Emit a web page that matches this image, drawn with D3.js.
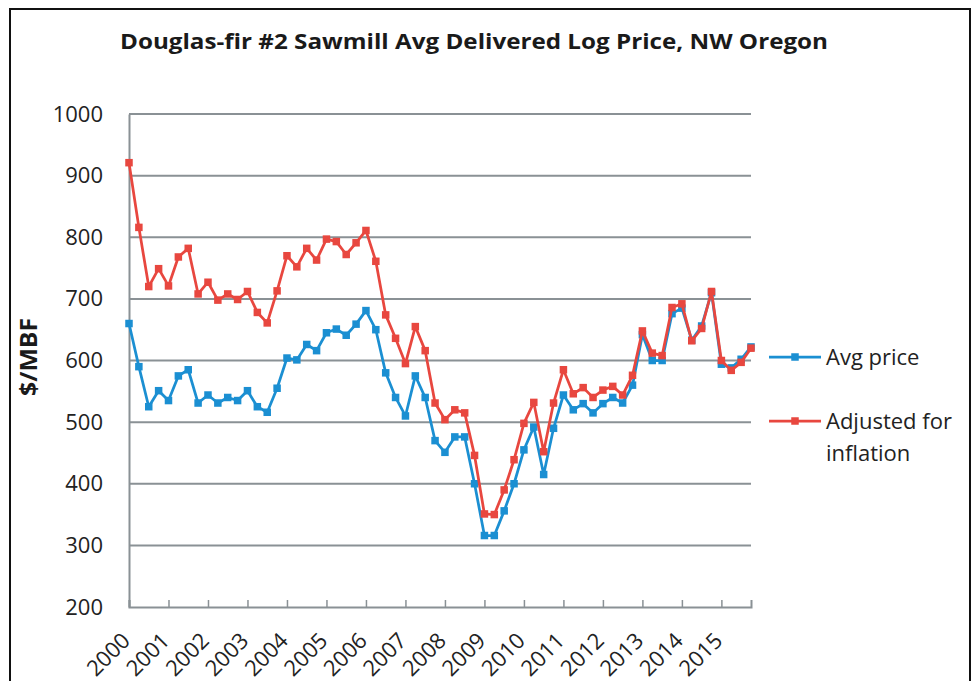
<!DOCTYPE html>
<html>
<head>
<meta charset="utf-8">
<script src="https://cdn.jsdelivr.net/npm/d3@7"></script>
<style>
  body { margin: 0; background: #fff; }
  svg { display: block; font-family: "Open Sans", "Noto Sans", sans-serif; }
</style>
</head>
<body>
<div id="chartContainer"></div>
<script>
// Douglas-fir #2 sawmill log price, quarterly
const years = ["2000", "2001", "2002", "2003", "2004", "2005", "2006", "2007",
               "2008", "2009", "2010", "2011", "2012", "2013", "2014", "2015"];
const quarterNames = ["Q1", "Q2", "Q3", "Q4"];
const quarters = years.flatMap(y => quarterNames.map(q => y + " " + q));

const avgPrice = [660, 590, 525, 551, 535, 575, 585, 531, 544, 531, 540, 535, 551, 525, 516, 555,
                  604, 601, 626, 616, 645, 651, 641, 659, 681, 650, 580, 540, 510, 575, 540, 470,
                  451, 476, 476, 400, 316, 316, 356, 400, 455, 492, 415, 490, 544, 520, 530, 515,
                  530, 540, 531, 560, 642, 600, 600, 676, 685, 633, 656, 710, 594, 588, 602, 622];

const adjusted = [921, 816, 720, 749, 721, 768, 782, 708, 727, 698, 708, 699, 712, 678, 661, 713,
                  770, 752, 782, 763, 797, 793, 772, 791, 811, 761, 674, 636, 595, 655, 616, 531,
                  504, 520, 515, 446, 351, 350, 390, 439, 498, 532, 452, 531, 585, 546, 556, 540,
                  552, 558, 544, 576, 648, 612, 608, 686, 692, 632, 652, 712, 600, 584, 597, 620];

const yTicks = [200, 300, 400, 500, 600, 700, 800, 900, 1000];

(function() {
    const W = 976, H = 681;
    const left = 129, right = 751, top = 114, bottom = 607;

    const svg = d3.select("#chartContainer").append("svg")
        .attr("width", W)
        .attr("height", H);

    // outer frame
    svg.append("path")
        .attr("d", `M10,${H} V9 H970 V${H}`)
        .attr("fill", "none")
        .attr("stroke", "#111")
        .attr("stroke-width", 2);

    svg.append("text")
        .attr("x", 474)
        .attr("y", 49)
        .attr("text-anchor", "middle")
        .attr("textLength", 708)
        .attr("lengthAdjust", "spacingAndGlyphs")
        .style("font-size", "22px")
        .style("font-weight", "bold")
        .attr("fill", "#1a1a1a")
        .text("Douglas-fir #2 Sawmill Avg Delivered Log Price, NW Oregon");

    const x = d3.scalePoint().domain(quarters).range([left, right]);
    const y = d3.scaleLinear().domain([200, 1000]).range([bottom, top]);

    // gridlines
    svg.append("g")
        .selectAll("line")
        .data(yTicks.filter(d => d > 200))
        .join("line")
          .attr("x1", left).attr("x2", right)
          .attr("y1", d => y(d)).attr("y2", d => y(d))
          .attr("stroke", "#8a9195")
          .attr("stroke-width", 2);

    // y axis
    const yAxis = svg.append("g")
        .attr("transform", `translate(${left},0)`)
        .call(d3.axisLeft(y).tickValues(yTicks).tickSize(0).tickPadding(26).tickFormat(d3.format("d")));
    yAxis.select(".domain").attr("stroke", "#8a9195").attr("stroke-width", 2);
    yAxis.selectAll("text")
        .style("font-size", "22px")
        .style("font-family", "'Open Sans', sans-serif")
        .attr("fill", "#222");

    // x axis
    const labelQuarters = quarters.filter((d, i) => i % 4 === 0);
    const xAxis = svg.append("g")
        .attr("transform", `translate(0,${bottom})`)
        .call(d3.axisBottom(x).tickValues(labelQuarters).tickSize(-7).tickFormat(d => d.slice(0, 4)));
    xAxis.select(".domain").attr("stroke", "#8a9195").attr("stroke-width", 2);
    xAxis.selectAll(".tick line").attr("stroke", "#8a9195").attr("stroke-width", 1.5);
    xAxis.selectAll(".tick text")
        .attr("text-anchor", "end")
        .attr("y", 0)
        .attr("dy", 0)
        .attr("transform", "translate(2,35) rotate(-45)")
        .style("font-size", "22px")
        .style("font-family", "'Open Sans', sans-serif")
        .attr("fill", "#222");

    // y axis title
    svg.append("text")
        .attr("transform", "translate(37,357) rotate(-90)")
        .attr("text-anchor", "middle")
        .attr("textLength", 78)
        .attr("lengthAdjust", "spacingAndGlyphs")
        .style("font-size", "23px")
        .style("font-weight", "bold")
        .attr("fill", "#1a1a1a")
        .text("$/MBF");

    const series = [
        { name: "Avg price", values: avgPrice, color: "#1b8fd2" },
        { name: "Adjusted for inflation", values: adjusted, color: "#e8473f" }
    ];

    const line = d3.line()
        .x((d, i) => x(quarters[i]))
        .y(d => y(d));

    series.forEach(s => {
        svg.append("path")
            .datum(s.values)
            .attr("fill", "none")
            .attr("stroke", s.color)
            .attr("stroke-width", 2.75)
            .attr("stroke-linejoin", "round")
            .attr("d", line);
        svg.append("g")
            .selectAll("rect")
            .data(s.values)
            .join("rect")
              .attr("x", (d, i) => x(quarters[i]) - 3.75)
              .attr("y", d => y(d) - 3.75)
              .attr("width", 7.5)
              .attr("height", 7.5)
              .attr("fill", s.color);
    });

    // legend
    const legendRows = [
        { lines: ["Avg price"], y: 357 },
        { lines: ["Adjusted for", "inflation"], y: 421 }
    ];
    legendRows.forEach((r, k) => {
        const c = series[k].color;
        svg.append("line")
            .attr("x1", 769).attr("x2", 821)
            .attr("y1", r.y).attr("y2", r.y)
            .attr("stroke", c).attr("stroke-width", 2.75);
        svg.append("rect")
            .attr("x", 791.25).attr("y", r.y - 3.75)
            .attr("width", 7.5).attr("height", 7.5)
            .attr("fill", c);
        r.lines.forEach((t, j) => {
            svg.append("text")
                .attr("x", 826)
                .attr("y", r.y + j * 32)
                .attr("dy", "0.35em")
                .style("font-size", "22px")
                .attr("fill", "#222")
                .text(t);
        });
    });
})();
</script>
</body>
</html>
